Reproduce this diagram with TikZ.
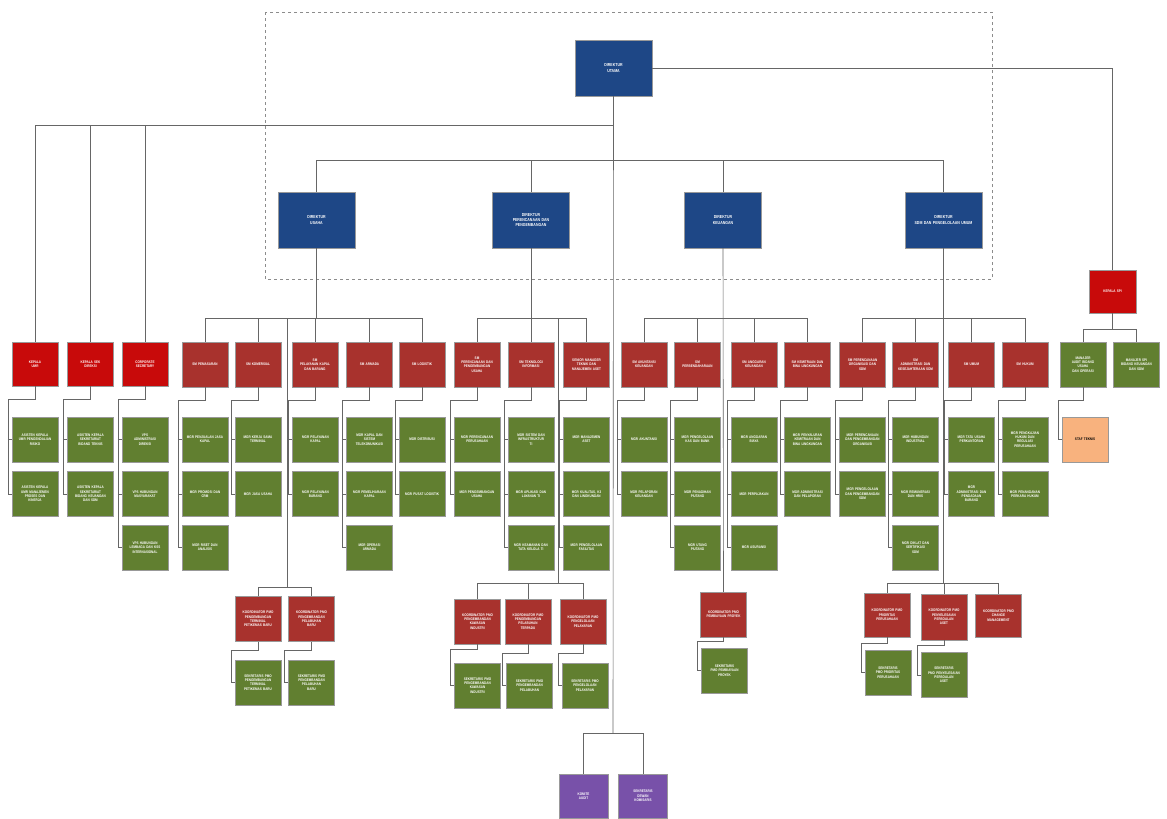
\documentclass[tikz,border=0pt]{standalone}
\usepackage{fontspec}
\newfontfamily\boxfont[FakeStretch=0.82]{Liberation Sans}
\definecolor{navyc}{HTML}{1E4786}
\definecolor{bred}{HTML}{C80A0A}
\definecolor{dred}{HTML}{A8322D}
\definecolor{grn}{HTML}{617F30}
\definecolor{orng}{HTML}{F8B27E}
\definecolor{purp}{HTML}{7851A9}
\newcommand\kids[3][13]{\draw[conn] (#2.south) -- ++(0,#1) -| ([xshift=-4pt]#3.west) -- (#3.west);}
\newcommand\tick[1]{\draw[conn] ([xshift=-4pt]#1.west) -- (#1.west);}
\begin{document}
\begin{tikzpicture}[x=1pt,y=-1pt,
  base/.style={draw=black!40, line width=0.4pt, inner sep=0.5pt, align=center, text=white,
    font=\boxfont\bfseries\fontsize{3.7}{4.3}\selectfont},
  nv/.style={base, fill=navyc, minimum width=77pt, minimum height=56pt, text width=72pt,
    font=\boxfont\bfseries\fontsize{4.3}{5.2}\selectfont},
  rd/.style={base, fill=bred, minimum width=46pt, minimum height=44pt, text width=43pt},
  dr/.style={base, fill=dred, minimum width=46pt, minimum height=45pt, text width=43pt},
  gr/.style={base, fill=grn, minimum width=46pt, minimum height=45pt, text width=43pt},
  orbox/.style={base, fill=orng, text=black, minimum width=46pt, minimum height=45pt, text width=43pt},
  pu/.style={base, fill=purp, minimum width=49pt, minimum height=44pt, text width=45pt},
  conn/.style={draw=black!60, line width=0.6pt}]
\useasboundingbox (0,0) rectangle (1167,819);
\fill[white] (0,0) rectangle (1167,819);
\draw[dashed, black!45, line width=0.45pt] (265,12) rectangle (992,279);

% top level
\node[nv] (top) at (613.5,68) {DIREKTUR\\UTAMA};
\node[nv] (D1) at (316.5,220) {DIREKTUR\\USAHA};
\node[nv] (D2) at (531,220) {DIREKTUR\\PERENCANAAN DAN\\PENGEMBANGAN};
\node[nv] (D3) at (723,220) {DIREKTUR\\KEUANGAN};
\node[nv] (D4) at (943.5,220) {DIREKTUR\\SDM DAN PENGELOLAAN UMUM};
\node[rd, minimum width=47pt, minimum height=43pt] (spi) at (1112.5,291.5) {KEPALA SPI};

% junction coordinates
\coordinate (jL) at (613,125);
\coordinate (jD) at (613,160);
\coordinate (jB) at (613,733);
\coordinate (b1) at (316.5,318);
\coordinate (b2) at (531,318);
\coordinate (b3) at (723,318);
\coordinate (b4) at (943.5,318);
\coordinate (bs) at (1112.5,329);
\coordinate (l1) at (287,587);
\coordinate (l2) at (558,583);
\coordinate (l4) at (943.5,583);

% department row
\node[rd] (d1) at (35,364) {KEPALA\\UMR};
\node[rd] (d2) at (90.5,364) {KEPALA SEK\\DIREKSI};
\node[rd] (d3) at (145,364) {CORPORATE\\SECRETARY};
\node[dr] (d4) at (205,364.5) {SM PEMASARAN};
\node[dr] (d5) at (258,364.5) {SM KOMERSIAL};
\node[dr] (d6) at (315,364.5) {SM\\PELAYANAN KAPAL\\DAN BARANG};
\node[dr] (d7) at (369.5,364.5) {SM ARMADA};
\node[dr] (d8) at (422,364.5) {SM LOGISTIK};
\node[dr] (d9) at (477,364.5) {SM\\PERENCANAAN DAN\\PENGEMBANGAN\\USAHA};
\node[dr] (d10) at (531,364.5) {SM TEKNOLOGI\\INFORMASI};
\node[dr] (d11) at (586.5,364.5) {SENIOR MANAGER\\TEKNIK DAN\\MANAJEMEN ASET};
\node[dr] (d12) at (644,364.5) {SM AKUNTANSI\\KEUANGAN};
\node[dr] (d13) at (697.5,364.5) {SM\\PERBENDAHARAAN};
\node[dr] (d14) at (754,364.5) {SM ANGGARAN\\KEUANGAN};
\node[dr] (d15) at (807.5,364.5) {SM KEMITRAAN DAN\\BINA LINGKUNGAN};
\node[dr] (d16) at (862.5,364.5) {SM PERENCANAAN\\ORGANISASI DAN\\SDM};
\node[dr] (d17) at (915.5,364.5) {SM\\ADMINISTRASI DAN\\KESEJAHTERAAN SDM};
\node[dr] (d18) at (971.5,364.5) {SM UMUM};
\node[dr] (d19) at (1025,364.5) {SM HUKUM};
\node[gr] (s1) at (1083,364.5) {MANAJER\\AUDIT BIDANG\\USAHA\\DAN OPERASI};
\node[gr] (s2) at (1136.5,364.5) {MANAJER SPI\\BIDANG KEUANGAN\\DAN SDM};
\node[orbox] (st) at (1085,439.5) {STAF TEKNIS};

% green rows
\node[gr] (g1a) at (35,439.5) {ASISTEN KEPALA\\UMR PENGENDALIAN\\RISIKO};
\node[gr] (g1b) at (35,494) {ASISTEN KEPALA\\UMR MANAJEMEN\\PROSES DAN\\KINERJA};
\node[gr] (g2a) at (90.5,439.5) {ASISTEN KEPALA\\SEKRETARIAT\\BIDANG TEKNIS};
\node[gr] (g2b) at (90.5,494) {ASISTEN KEPALA\\SEKRETARIAT\\BIDANG KEUANGAN\\DAN SDM};
\node[gr] (g3a) at (145,439.5) {VPS\\ADMINISTRASI\\DIREKSI};
\node[gr] (g3b) at (145,494) {VPS HUBUNGAN\\MASYARAKAT};
\node[gr] (g3c) at (145,547.5) {VPS HUBUNGAN\\LEMBAGA DAN KSS\\INTERNASIONAL};
\node[gr] (g4a) at (205,439.5) {MGR PENJUALAN JASA\\KAPAL};
\node[gr] (g4b) at (205,494) {MGR PROMOSI DAN\\CRM};
\node[gr] (g4c) at (205,547.5) {MGR RISET DAN\\ANALISIS};
\node[gr] (g5a) at (258,439.5) {MGR KERJA SAMA\\TERMINAL};
\node[gr] (g5b) at (258,494) {MGR JASA USAHA};
\node[gr] (g6a) at (315.5,439.5) {MGR PELAYANAN\\KAPAL};
\node[gr] (g6b) at (315.5,494) {MGR PELAYANAN\\BARANG};
\node[gr] (g7a) at (369.5,439.5) {MGR KAPAL DAN\\SISTEM\\TELEKOMUNIKASI};
\node[gr] (g7b) at (369.5,494) {MGR PEMELIHARAAN\\KAPAL};
\node[gr] (g7c) at (369.5,547.5) {MGR OPERASI\\ARMADA};
\node[gr] (g8a) at (422,439.5) {MGR DISTRIBUSI};
\node[gr] (g8b) at (422,494) {MGR PUSAT LOGISTIK};
\node[gr] (g9a) at (477,439.5) {MGR PERENCANAAN\\PERUSAHAAN};
\node[gr] (g9b) at (477,494) {MGR PENGEMBANGAN\\USAHA};
\node[gr] (g10a) at (531,439.5) {MGR SISTEM DAN\\INFRASTRUKTUR\\TI};
\node[gr] (g10b) at (531,494) {MGR APLIKASI DAN\\LAYANAN TI};
\node[gr] (g10c) at (531,547.5) {MGR KEAMANAN DAN\\TATA KELOLA TI};
\node[gr] (g11a) at (586.5,439.5) {MGR MANAJEMEN\\ASET};
\node[gr] (g11b) at (586.5,494) {MGR KUALITAS, K3\\DAN LINGKUNGAN};
\node[gr] (g11c) at (586.5,547.5) {MGR PENGELOLAAN\\FASILITAS};
\node[gr] (g12a) at (644,439.5) {MGR AKUNTANSI};
\node[gr] (g12b) at (644,494) {MGR PELAPORAN\\KEUANGAN};
\node[gr] (g13a) at (697.5,439.5) {MGR PENGELOLAAN\\KAS DAN BANK};
\node[gr] (g13b) at (697.5,494) {MGR PENAGIHAN\\PIUTANG};
\node[gr] (g13c) at (697.5,547.5) {MGR UTANG\\PIUTANG};
\node[gr] (g14a) at (754,439.5) {MGR ANGGARAN\\BIAYA};
\node[gr] (g14b) at (754,494) {MGR PERPAJAKAN};
\node[gr] (g14c) at (754,547.5) {MGR ASURANSI};
\node[gr] (g15a) at (807.5,439.5) {MGR PENYALURAN\\KEMITRAAN DAN\\BINA LINGKUNGAN};
\node[gr] (g15b) at (807.5,494) {MGR ADMINISTRASI\\DAN PELAPORAN};
\node[gr] (g16a) at (862.5,439.5) {MGR PERENCANAAN\\DAN PENGEMBANGAN\\ORGANISASI};
\node[gr] (g16b) at (862.5,494) {MGR PENGELOLAAN\\DAN PENGEMBANGAN\\SDM};
\node[gr] (g17a) at (915.5,439.5) {MGR HUBUNGAN\\INDUSTRIAL};
\node[gr] (g17b) at (915.5,494) {MGR REMUNERASI\\DAN HRIS};
\node[gr] (g17c) at (915.5,547.5) {MGR DIKLAT DAN\\SERTIFIKASI\\SDM};
\node[gr] (g18a) at (971.5,439.5) {MGR TATA USAHA\\PERKANTORAN};
\node[gr] (g18b) at (971.5,494) {MGR\\ADMINISTRASI DAN\\PENGADAAN\\BARANG};
\node[gr] (g19a) at (1025,439.5) {MGR PENGKAJIAN\\HUKUM DAN\\REGULASI\\PERUSAHAAN};
\node[gr] (g19b) at (1025,494) {MGR PENANGANAN\\PERKARA HUKUM};

% lower subtrees
\node[dr] (r1a) at (258,619) {KOORDINATOR PMO\\PENGEMBANGAN\\TERMINAL\\PETIKEMAS BARU};
\node[dr] (r1b) at (311.5,619) {KOORDINATOR PMO\\PENGEMBANGAN\\PELABUHAN\\BARU};
\node[gr] (h1a) at (258,682.5) {SEKRETARIS PMO\\PENGEMBANGAN\\TERMINAL\\PETIKEMAS BARU};
\node[gr] (h1b) at (311.5,682.5) {SEKRETARIS PMO\\PENGEMBANGAN\\PELABUHAN\\BARU};
\node[dr] (r2a) at (477.5,621.5) {KOORDINATOR PMO\\PENGEMBANGAN\\KAWASAN\\INDUSTRI};
\node[dr] (r2b) at (528,621.5) {KOORDINATOR PMO\\PENGEMBANGAN\\PELABUHAN\\TERPADU};
\node[dr] (r2c) at (583,621.5) {KOORDINATOR PMO\\PENGELOLAAN\\PELAYARAN};
\node[gr] (h2a) at (477.5,685.5) {SEKRETARIS PMO\\PENGEMBANGAN\\KAWASAN\\INDUSTRI};
\node[gr] (h2b) at (529.5,685.5) {SEKRETARIS PMO\\PENGEMBANGAN\\PELABUHAN};
\node[gr] (h2c) at (585,685.5) {SEKRETARIS PMO\\PENGELOLAAN\\PELAYARAN};
\node[dr] (r3) at (723.5,614.5) {KOORDINATOR PMO\\PEMBIAYAAN PROYEK};
\node[gr] (h3) at (724.5,670.5) {SEKRETARIS\\PMO PEMBIAYAAN\\PROYEK};
\node[dr, minimum height=44pt] (r4a) at (887,615) {KOORDINATOR PMO\\PRIORITAS\\PERUSAHAAN};
\node[dr, minimum height=46pt] (r4b) at (944,617) {KOORDINATOR PMO\\PENYELESAIAN\\PERSOALAN\\ASET};
\node[dr, minimum height=43pt] (r4c) at (998.5,615.5) {KOORDINATOR PMO\\CHANGE\\MANAGEMENT};
\node[gr] (h4a) at (888,672.5) {SEKRETARIS\\PMO PRIORITAS\\PERUSAHAAN};
\node[gr] (h4b) at (944,675) {SEKRETARIS\\PMO PENYELESAIAN\\PERSOALAN\\ASET};
\node[pu] (p1) at (583.5,796) {KOMITE\\AUDIT};
\node[pu] (p2) at (643,796) {SEKRETARIS\\DEWAN\\KOMISARIS};

% connectors: upper levels
\draw[conn] (top.south) -- (jB);
\draw[conn] (top.east) -| (spi.north);
\draw[conn] (d1.north) |- (jL);
\draw[conn] (d2.north) |- (jL);
\draw[conn] (d3.north) |- (jL);
\draw[conn] (D1.north) |- (jD);
\draw[conn] (D2.north) |- (jD);
\draw[conn] (D3.north) |- (jD);
\draw[conn] (D4.north) |- (jD);
\draw[conn] (D1.south) -- (b1);
\draw[conn] (D2.south) -- (b2);
\draw[conn] (D3.south) -- (r3.north);
\draw[conn] (D4.south) -- (l4);
\foreach \d in {d4,d5,d6,d7,d8} {\draw[conn] (\d.north) |- (b1);}
\foreach \d in {d9,d10,d11} {\draw[conn] (\d.north) |- (b2);}
\foreach \d in {d12,d13,d14,d15} {\draw[conn] (\d.north) |- (b3);}
\foreach \d in {d16,d17,d18,d19} {\draw[conn] (\d.north) |- (b4);}
\draw[conn] (spi.south) -- (bs);
\draw[conn] (s1.north) |- (bs);
\draw[conn] (s2.north) |- (bs);
\draw[conn] (b1) -| (l1);
\draw[conn] (b2) -| (l2);
\draw[conn] (r1a.north) |- (l1);
\draw[conn] (r1b.north) |- (l1);
\draw[conn] (r2a.north) |- (l2);
\draw[conn] (r2b.north) |- (l2);
\draw[conn] (r2c.north) |- (l2);
\draw[conn] (r4a.north) |- (l4);
\draw[conn] (r4b.north) |- (l4);
\draw[conn] (r4c.north) |- (l4);
\draw[conn] (p1.north) |- (jB);
\draw[conn] (p2.north) |- (jB);

% connectors: children
\kids{d1}{g1b} \tick{g1a}
\kids{d2}{g2b} \tick{g2a}
\kids{d3}{g3c} \tick{g3a} \tick{g3b}
\kids{d4}{g4c} \tick{g4a} \tick{g4b}
\kids{d5}{g5b} \tick{g5a}
\kids{d6}{g6b} \tick{g6a}
\kids{d7}{g7c} \tick{g7a} \tick{g7b}
\kids{d8}{g8b} \tick{g8a}
\kids{d9}{g9b} \tick{g9a}
\kids{d10}{g10c} \tick{g10a} \tick{g10b}
\kids{d11}{g11c} \tick{g11a} \tick{g11b}
\kids{d12}{g12b} \tick{g12a}
\kids{d13}{g13c} \tick{g13a} \tick{g13b}
\kids{d14}{g14c} \tick{g14a} \tick{g14b}
\kids{d15}{g15b} \tick{g15a}
\kids{d16}{g16b} \tick{g16a}
\kids{d17}{g17c} \tick{g17a} \tick{g17b}
\kids{d18}{g18b} \tick{g18a}
\kids{d19}{g19b} \tick{g19a}
\kids{s1}{st}
\kids[9]{r1a}{h1a}
\kids[9]{r1b}{h1b}
\kids[5]{r2a}{h2a}
\kids[9]{r2b}{h2b}
\kids[9]{r2c}{h2c}
\kids[4]{r3}{h3}
\kids[6]{r4a}{h4a}
\kids[5]{r4b}{h4b}
\end{tikzpicture}
\end{document}
